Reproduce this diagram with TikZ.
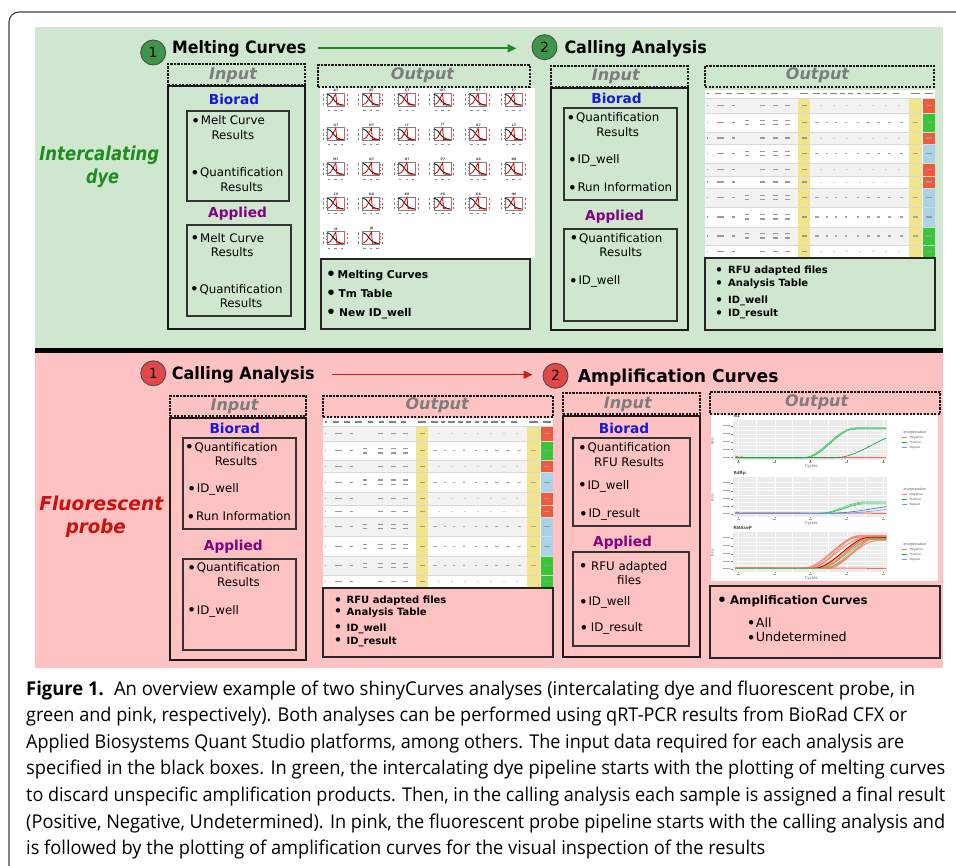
\documentclass[tikz,border=0pt]{standalone}
\usepackage{fontspec}
\usepackage{graphicx}
\setmainfont{DejaVu Sans}
\newfontfamily\capfont{Open Sans}
\usetikzlibrary{arrows.meta}

\definecolor{bggreen}{RGB}{207,231,206}
\definecolor{bgpink}{RGB}{255,194,194}
\definecolor{labgreen}{RGB}{30,140,30}
\definecolor{labred}{RGB}{205,15,15}
\definecolor{bioblue}{RGB}{25,25,215}
\definecolor{apppurple}{RGB}{130,0,130}
\definecolor{iogray}{RGB}{125,125,125}
\definecolor{circgreen}{RGB}{62,150,72}
\definecolor{circred}{RGB}{226,72,72}
\definecolor{arrgreen}{RGB}{30,140,30}
\definecolor{arrred}{RGB}{210,25,25}
\definecolor{tyellow}{RGB}{240,228,140}
\definecolor{tred}{RGB}{240,90,60}
\definecolor{tgreen}{RGB}{55,200,55}
\definecolor{tblue}{RGB}{170,212,230}
\definecolor{ggred}{RGB}{248,118,109}
\definecolor{gggreen}{RGB}{0,186,56}
\definecolor{ggblue}{RGB}{97,156,255}
\definecolor{ggpanel}{RGB}{235,235,235}

\newcommand\fs[1]{\fontsize{#1}{#1}\selectfont}
\newcommand\fsb[2]{\fontsize{#1}{#2}\selectfont}
\newcommand\fitw[2]{\resizebox{#1pt}{\height}{#2}}
\newcommand\bx[6]{\node[#1, anchor=north west, inner sep=0pt, outer sep=0pt, minimum width={#5-#3}, minimum height={#6-#4}] (#2) at (#3,#4) {};}
% larger bullets
\newcommand\bigbul{\raisebox{-1.4pt}{\fs{15.5}\textbullet}}
\newcommand\midbul{\raisebox{-0.8pt}{\fs{12.5}\textbullet}}
\newcommand\bul{\llap{\bigbul\hspace{0.6pt}}}

% melting-curve thumbnail
\newcommand\thumb[3]{%
\begin{scope}[shift={(#1,#2)}]
 \node[font=\bfseries\fs{3.2}, text=black!75, inner sep=0pt] (thl#3) at (17,0) {#3};
 \draw[black!50, line width=0.4pt] (8,2.5) rectangle (25,15.5);
 \foreach \yy in {3.5,8,12.5} \draw[black!45, line width=0.8pt] (4,\yy) -- (4,\yy+2.5);
 \foreach \yy in {4,7,10,13} \draw[black!45, line width=0.3pt] (7,\yy) -- (8,\yy);
 \draw[black!90, line width=0.9pt] (8.5,3.8) .. controls (13.5,4) and (14.5,14.3) .. (24.5,14.6);
 \draw[red!85!black, line width=0.8pt] (8.5,14.2) .. controls (13,13.8) and (15.2,4.5) .. (16.8,3.2) -- (17.8,14.3) -- (24.5,14.7);
 \foreach \yy in {4,8.5,13} \draw[red!75, line width=0.8pt] (28,\yy) -- (28,\yy+2);
 \foreach \yy in {4,7,10,13} \draw[red!70, line width=0.3pt] (25,\yy) -- (26,\yy);
 \foreach \xx in {10,16.5,23} \draw[black!45, line width=0.7pt] (\xx-1.2,19.5) -- (\xx+1.2,19.5);
\end{scope}}

% results table picture
\newcommand\tablepic[3]{%
\begin{scope}[shift={(#1,#2)}, yscale=#3]
 \fill[white] (0,0) rectangle (230,168);
 \foreach \ta/\tb [count=\r] in {8/23,23/42,42/54,54/73,73/86,86/98,98/117,117/137,137/155,155/168}{
   \ifodd\r\relax\fill[black!5] (0,\ta) rectangle (230,\tb);\fi}
 \fill[tyellow] (93,8) rectangle (105,168);
 \fill[tyellow] (204,8) rectangle (217,168);
 \foreach \ta/\tb/\cc in {8/23/tred,23/42/tgreen,42/54/tred,54/73/tblue,73/86/tred,86/98/tred,98/117/tblue,117/137/tblue,137/155/tgreen,155/168/tgreen}
   \fill[\cc] (218,\ta) rectangle (230,\tb);
 \foreach \tb in {8,23,42,54,73,86,98,117,137,155}
   \draw[black!15, line width=0.3pt] (0,\tb) -- (230,\tb);
 \foreach \xx/\ww in {2/1.5,10/6,21/6,32/7,45/5,56/5,66/7,78/5,95/8,108/7,118/4,125/7,135/5,143/5,152/4,160/5,168/7,178/4,188/6,206/9,220/8}
   \fill[black!50] (\xx,3.2) rectangle ++(\ww,1.3);
 \foreach \ta/\tb/\tall in {8/23/0,23/42/1,42/54/0,54/73/1,73/86/0,86/98/0,98/117/1,117/137/1,137/155/1,155/168/0}{
   \pgfmathsetmacro\ym{(\ta+\tb)/2}
   \foreach \xx/\ww in {2/1.2,12/7,27/3,97/5,221/6}{\fill[black!40] (\xx,\ym-0.55) rectangle ++(\ww,1.1);}
   \ifnum\tall=1\relax
     \foreach \xx/\ww in {40/4,55/5,68/5,80/5}{\fill[black!40] (\xx,\ym-2.8) rectangle ++(\ww,1.1); \fill[black!40] (\xx,\ym+1.5) rectangle ++(\ww,1.1);}
     \foreach \xx/\ww in {110/4,121/2,130/2,140/2,152/2,162/3,172/3,183/3,195/3,208/5}{\fill[black!35] (\xx,\ym-0.55) rectangle ++(\ww,1.1);}
   \else
     \foreach \xx/\ww in {55/5,68/5,80/5}{\fill[black!40] (\xx,\ym-0.55) rectangle ++(\ww,1.1);}
     \foreach \xx in {115,128,141,154,167,180,193}{\fill[black!18] (\xx,\ym-0.4) rectangle ++(1.5,0.8);}
   \fi
 }
\end{scope}}

% amplification plot frame
\newcommand\ampframe[4]{%
\begin{scope}[shift={(#1,#2)}]
 \fill[ggpanel] (0,0) rectangle (153.4,40);
 \foreach \xx in {23,59,95,132} \draw[white, line width=0.25pt] (\xx,0) -- (\xx,40);
 \foreach \yy in {10,18,25.5,33} \draw[white, line width=0.25pt] (0,\yy) -- (153.4,\yy);
 \foreach \xx in {5,41.5,77,113.5,150} \draw[white, line width=0.55pt] (\xx,0) -- (\xx,40);
 \foreach \yy in {6,14,22,29.5,37} \draw[white, line width=0.55pt] (0,\yy) -- (153.4,\yy);
 \foreach \yy in {6,14,22,29.5,37} {\fill[black!35] (-10,\yy-0.5) rectangle (-3,\yy+0.5); \draw[black!50, line width=0.3pt] (-2,\yy) -- (0,\yy);}
 \foreach \xx in {5,41.5,77,113.5,150} {\fill[black!35] (\xx-1.5,42) rectangle (\xx+1.5,43); \draw[black!50, line width=0.3pt] (\xx,40) -- (\xx,41.5);}
 \node[font=\bfseries\fs{4.2}, text=black!70, inner sep=0pt, anchor=base west] (#4title) at (0,-2) {#3};
 \node[font=\fs{3.6}, text=black!60, inner sep=0pt, rotate=90] (#4rfu) at (-20.7,21) {RFU};
 \node[font=\fs{4}, text=black!60, inner sep=0pt] (#4cyc) at (78,46.7) {Cycles};
 \node[font=\fs{3.3}, text=black!70, inner sep=0pt, anchor=west] (#4leg) at (170,13) {Interpretation};
 \draw[ggred, line width=0.6pt] (168.5,17.7) -- ++(5,0);
 \draw[gggreen, line width=0.6pt] (168.5,22.7) -- ++(5,0);
 \draw[ggblue, line width=0.6pt] (168.5,27.7) -- ++(5,0);
 \node[font=\fs{3}, text=black!65, inner sep=0pt, anchor=west] (#4neg) at (176,17.7) {Negative};
 \node[font=\fs{3}, text=black!65, inner sep=0pt, anchor=west] (#4pos) at (176,22.7) {Positive};
 \node[font=\fs{3}, text=black!65, inner sep=0pt, anchor=west] (#4rep) at (176,27.7) {Repeat};
\end{scope}}

\begin{document}
\begin{tikzpicture}[x=1pt,y=-1pt,
  declare function={clampt(\t)=min(1,max(0,\t)); sstep(\s,\a,\b)=clampt((\s-\a)/\b)*clampt((\s-\a)/\b)*(3-2*clampt((\s-\a)/\b));},
  outframe/.style={draw=black!75, line width=1.1pt},
  dashbox/.style={draw=black!90, line width=1.5pt, dash pattern=on 2.2pt off 1.3pt},
  inbox/.style={draw=black!90, line width=2pt},
  subbox/.style={draw=black!80, line width=1.2pt},
  outbox/.style={draw=black!85, line width=1.5pt},
  iolab/.style={font=\bfseries\itshape\fs{16}, text=iogray, inner sep=0pt, anchor=base},
  biolab/.style={font=\bfseries\fs{13.7}, text=bioblue, inner sep=0pt, anchor=base},
  applab/.style={font=\bfseries\fs{13.7}, text=apppurple, inner sep=0pt, anchor=base},
  itm/.style={font=\fsb{11.8}{14.7}, inner sep=0pt, anchor=base west},
  outl/.style={inner sep=0pt, anchor=base west},
  ttl/.style={font=\bfseries\fs{17}, inner sep=0pt, anchor=base west},
  numcirc/.style={circle, draw=black!70, line width=0.9pt, minimum size=25pt, inner sep=0pt, font=\fs{14}},
  sidelab/.style={font=\bfseries\itshape\fs{19.2}, inner sep=0pt, anchor=base},
  capline/.style={font=\capfont\fs{19}, inner sep=0pt, anchor=base west},
  garrow/.style={draw=arrgreen, line width=1.8pt, -{Triangle[length=9pt,width=8pt]}},
  rarrow/.style={draw=arrred, line width=1.5pt, -{Triangle[length=9pt,width=8pt]}},
]
\useasboundingbox (0,0) rectangle (956,866);
\clip (0,0) rectangle (956,866);
\fill[white] (0,0) rectangle (956,866);
\draw[outframe, rounded corners=10pt] (9,12) rectangle (1000,900);

% backgrounds
\fill[bggreen] (35,26.7) rectangle (943,348.5);
\fill[black] (35,348.5) rectangle (943,353.5);
\fill[bgpink] (35,353.5) rectangle (943,668);

% ---------- images ----------
\fill[white] (320,88) rectangle (535,258);
\foreach \lab [count=\k from 0] in {A7,B7,C7,D7,E7,F7,G7,H7,I7,J7,K7,L7,M7,N7,O7,P7,A8,B8,C8,D8,E8,F8,G8,H8,I8,J8}{
  \pgfmathsetmacro\gx{319+35.6*mod(\k,6)}
  \pgfmathsetmacro\gy{90.5+34.6*floor(\k/6)}
  \thumb{\gx}{\gy}{\lab}
}
\tablepic{705}{90}{1}
\tablepic{323}{418}{1.012}

\fill[white] (711,415) rectangle (938,581);
\ampframe{733.3}{420}{N1}{pa}
\ampframe{733.3}{476.7}{RdRp}{pb}
\ampframe{733.3}{531.7}{RNAseP}{pc}
% panel 1 curves
\begin{scope}[shift={(733.3,420)}]
 \draw[ggred!90!red, line width=1pt] (2,37.1) -- (4,36.4) -- (6,37.9) -- (8,36.8) -- (11,37.6) -- (153,37.7);
 \foreach \am/\aa/\ww in {29/70/50,28.5/73/48,30/71/52}
   \draw[gggreen!75, line width=0.6pt] plot[domain=2:153, samples=50] (\x,{37.7-\am*sstep(\x,\aa,\ww)});
 \draw[gggreen!85!black, line width=0.6pt] plot[domain=2:153, samples=50] (\x,{37.7-26*sstep(\x,102,75)});
\end{scope}
% panel 2 curves
\begin{scope}[shift={(733.3,476.7)}]
 \draw[ggred!90!red, line width=1pt] (2,36.2) -- (4,35.5) -- (7,36.8) -- (10,36.1) -- (153,36.6);
 \foreach \am/\aa/\ww in {9.5/88/45,10.5/90/42,11.5/86/46}
   \draw[gggreen!75, line width=0.6pt] plot[domain=2:153, samples=50] (\x,{36.6-\am*sstep(\x,\aa,\ww)});
 \draw[ggblue!80!black, line width=0.7pt] plot[domain=2:153, samples=40] (\x,{36.6-11*sstep(\x,95,100)});
 \draw[ggblue, line width=0.6pt] plot[domain=2:153, samples=40] (\x,{36.6-8*sstep(\x,105,100)});
\end{scope}
% panel 3 curves
\begin{scope}[shift={(733.3,531.7)}]
 \draw[ggred!90!red, line width=1pt] (2,36.2) -- (153,36.6);
 \foreach \am/\aa/\ww in {31/70/55,32/73/52,30/75/55,33/77/50,29/80/55,31/83/52,32/85/55,30/87/50,28/90/55,31/93/52,32/95/50,30/79/60}
   \draw[ggred!85!orange, line width=1.1pt, opacity=0.75] plot[domain=2:153, samples=40] (\x,{36.6-\am*sstep(\x,\aa,\ww)});
 \draw[red!60!black, line width=0.6pt] plot[domain=2:153, samples=40] (\x,{36.6-31*sstep(\x,81,55)});
 \draw[olive!80, line width=0.6pt] plot[domain=2:153, samples=40] (\x,{36.6-29*sstep(\x,87,52)});
 \draw[gggreen!70, line width=0.5pt] plot[domain=2:153, samples=40] (\x,{36.6-30*sstep(\x,91,50)});
\end{scope}

% ---------- green section boxes ----------
\bx{dashbox}{din1}{168}{64}{305}{85}
\bx{inbox}{in1}{168}{86}{305}{329}
\bx{subbox}{sb1}{187}{111}{289}{201}
\bx{subbox}{sa1}{187}{225}{291}{316}
\bx{dashbox}{dout1}{318}{65}{530}{87}
\bx{outbox}{out1}{321}{259}{530}{329}
\bx{dashbox}{din2}{551}{66}{688}{87}
\bx{inbox}{in2}{551}{88}{688}{330}
\bx{subbox}{sb2}{564}{108}{677}{200}
\bx{subbox}{sa2}{564}{229}{677}{321}
\bx{dashbox}{dout2}{705}{66}{934}{87}
\bx{outbox}{out2}{705}{258}{935}{330}

% ---------- pink section boxes ----------
\bx{dashbox}{din3}{170}{396}{306}{416}
\bx{inbox}{in3}{170}{418}{306}{660}
\bx{subbox}{sb3}{183}{438}{296}{529}
\bx{subbox}{sa3}{183}{559}{296}{650}
\bx{dashbox}{dout3}{323}{396}{553}{417}
\bx{outbox}{out3}{323}{588}{553}{657}
\bx{dashbox}{din4}{563}{393}{700}{414}
\bx{inbox}{in4}{563}{416}{700}{657}
\bx{subbox}{sb4}{573}{438}{690}{526}
\bx{subbox}{sa4}{573}{552}{689}{646}
\bx{dashbox}{dout4}{710}{392}{940}{414}
\bx{outbox}{out4}{710}{586}{940}{658}

% ---------- side labels ----------
\node[sidelab, text=labgreen] (ld1) at (99.3,160.7) {\fitw{120}{Intercalating}};
\node[sidelab, text=labgreen] (ld2) at (102.5,184) {\fitw{33}{dye}};
\node[sidelab, text=labred] (lf1) at (101.3,510.7) {\fitw{124}{Fluorescent}};
\node[sidelab, text=labred] (lf2) at (95.8,533.5) {\fitw{60}{probe}};

% ---------- step titles ----------
\node[numcirc, fill=circgreen] (c1) at (153.2,52.5) {1};
\node[ttl] (t1) at (172,53.3) {\fitw{134}{Melting Curves}};
\node[numcirc, fill=circgreen] (c2) at (544.5,47.2) {2};
\node[ttl] (t2) at (564.3,53.3) {\fitw{142.4}{Calling Analysis}};
\draw[garrow, shorten <=12pt, shorten >=15pt] (t1.east |- 0,48.3) -- (c2.west |- 0,48.3);

\node[numcirc, fill=circred] (c3) at (153.3,373.3) {1};
\node[ttl] (t3) at (171.7,380) {\fitw{142.7}{Calling Analysis}};
\node[numcirc, fill=circred] (c4) at (555.5,375.8) {2};
\node[ttl, font=\bfseries\fs{17.8}] (t4) at (577.7,382.3) {\fitw{200.7}{Amplification Curves}};
\draw[rarrow, shorten <=17.6pt, shorten >=10pt] (t3.east |- 0,374.7) -- (c4.west |- 0,374.7);

% ---------- input / output headings ----------
\node[iolab] (li1) at (233,79.3) {Input};
\node[iolab] (lo1) at (422.5,80) {Output};
\node[iolab] (li2) at (615.8,81) {Input};
\node[iolab] (lo2) at (817.5,80) {Output};
\node[iolab] (li3) at (234.5,410) {Input};
\node[iolab] (lo3) at (437.2,409.3) {Output};
\node[iolab] (li4) at (627.8,408.3) {Input};
\node[iolab] (lo4) at (816.7,406.7) {Output};

\node[biolab] (bl1) at (234,105) {Biorad};
\node[applab] (al1) at (237.5,217.3) {Applied};
\node[biolab] (bl2) at (616.5,104) {Biorad};
\node[applab] (al2) at (614.5,220.7) {Applied};
\node[biolab] (bl3) at (234.7,433.3) {Biorad};
\node[applab] (al3) at (233.3,550) {Applied};
\node[biolab] (bl4) at (624,434) {Biorad};
\node[applab] (al4) at (622.5,546) {Applied};

% ---------- input items ----------
\node[itm] (i1a) at (200.7,125) {\bul\begin{tabular}[t]{@{}c@{}}Melt Curve\\Results\end{tabular}};
\node[itm] (i1b) at (200,176.7) {\bul\begin{tabular}[t]{@{}c@{}}Quantification\\Results\end{tabular}};
\node[itm] (i1c) at (200,242.3) {\bul\begin{tabular}[t]{@{}c@{}}Melt Curve\\Results\end{tabular}};
\node[itm] (i1d) at (199.3,293.3) {\bul\begin{tabular}[t]{@{}c@{}}Quantification\\Results\end{tabular}};

\node[itm] (i2a) at (576,121.7) {\bul\begin{tabular}[t]{@{}c@{}}Quantification\\Results\end{tabular}};
\node[itm] (i2b) at (577.5,164) {\bul ID\_well};
\node[itm] (i2c) at (577.3,191.7) {\bul Run Information};
\node[itm] (i2d) at (579,242.3) {\bul\begin{tabular}[t]{@{}c@{}}Quantification\\Results\end{tabular}};
\node[itm] (i2e) at (578.3,285) {\bul ID\_well};

\node[itm] (i3a) at (194.3,451) {\bul\begin{tabular}[t]{@{}c@{}}Quantification\\Results\end{tabular}};
\node[itm] (i3b) at (196.7,492.7) {\bul ID\_well};
\node[itm] (i3c) at (196,520.7) {\bul Run Information};
\node[itm] (i3d) at (196.7,571.7) {\bul\begin{tabular}[t]{@{}c@{}}Quantification\\Results\end{tabular}};
\node[itm] (i3e) at (196.7,614) {\bul ID\_well};

\node[itm] (i4a) at (587.3,452) {\bul\begin{tabular}[t]{@{}c@{}}Quantification\\RFU Results\end{tabular}};
\node[itm] (i4b) at (587.3,489.3) {\bul ID\_well};
\node[itm] (i4c) at (588.3,517.7) {\bul ID\_result};
\node[itm] (i4d) at (591,570) {\llap{\bigbul\hspace{3.5pt}}\begin{tabular}[t]{@{}c@{}}RFU adapted\\files\end{tabular}};
\node[itm] (i4e) at (588.3,605.7) {\bul ID\_well};
\node[itm] (i4f) at (590.7,631.7) {\llap{\bigbul\hspace{2.5pt}}ID\_result};

% ---------- output lists ----------
\node[outl, font=\bfseries\fsb{10.7}{19}] (o1) at (326,278.3)
  {\begin{tabular}[t]{@{}l@{}}\bigbul\hspace{1.5pt}Melting Curves\\\bigbul\hspace{2.5pt}Tm Table\\\bigbul\hspace{3pt}New ID\_well\end{tabular}};
\node[outl, font=\bfseries\fs{10}] (o2a) at (715,274) {\midbul\hspace{5pt}RFU adapted files};
\node[outl, font=\bfseries\fs{10}] (o2b) at (715,286.7) {\midbul\hspace{5pt}Analysis Table};
\node[outl, font=\bfseries\fs{10}] (o2c) at (715,303.3) {\midbul\hspace{5pt}ID\_well};
\node[outl, font=\bfseries\fs{10}] (o2d) at (715,316.7) {\midbul\hspace{5pt}ID\_result};
\node[outl, font=\bfseries\fs{10}] (o3a) at (334,603.3) {\midbul\hspace{4.5pt}RFU adapted files};
\node[outl, font=\bfseries\fs{10}] (o3b) at (334,615) {\midbul\hspace{4.5pt}Analysis Table};
\node[outl, font=\bfseries\fs{10}] (o3c) at (334,631) {\midbul\hspace{4.5pt}ID\_well};
\node[outl, font=\bfseries\fs{10}] (o3d) at (334,644) {\midbul\hspace{4.5pt}ID\_result};
\node[outl, font=\bfseries\fs{11.8}] (o4) at (717,604) {\bigbul\hspace{3pt}Amplification Curves};
\node[outl, font=\fsb{12.7}{14.4}] (o5) at (746.5,627.3)
  {\begin{tabular}[t]{@{}l@{}}\bigbul\hspace{0pt}All\\\bigbul\hspace{0pt}Undetermined\end{tabular}};

% ---------- caption ----------
\node[capline] (cap1) at (26,695) {\fitw{889}{\textbf{Figure 1.}\hspace{0.55em}An overview example of two shinyCurves analyses (intercalating dye and fluorescent probe, in}};
\node[capline] (cap2) at (26,721.6) {\fitw{881}{green and pink, respectively). Both analyses can be performed using qRT-PCR results from BioRad CFX or}};
\node[capline] (cap3) at (26,748.2) {\fitw{878}{Applied Biosystems Quant Studio platforms, among others. The input data required for each analysis are}};
\node[capline] (cap4) at (26,774.8) {\fitw{919}{specified in the black boxes. In green, the intercalating dye pipeline starts with the plotting of melting curves}};
\node[capline] (cap5) at (26,801.4) {\fitw{919}{to discard unspecific amplification products. Then, in the calling analysis each sample is assigned a final result}};
\node[capline] (cap6) at (26,828) {\fitw{919}{(Positive, Negative, Undetermined). In pink, the fluorescent probe pipeline starts with the calling analysis and}};
\node[capline] (cap7) at (26,854.6) {\fitw{739}{is followed by the plotting of amplification curves for the visual inspection of the results}};
\end{tikzpicture}
\end{document}
